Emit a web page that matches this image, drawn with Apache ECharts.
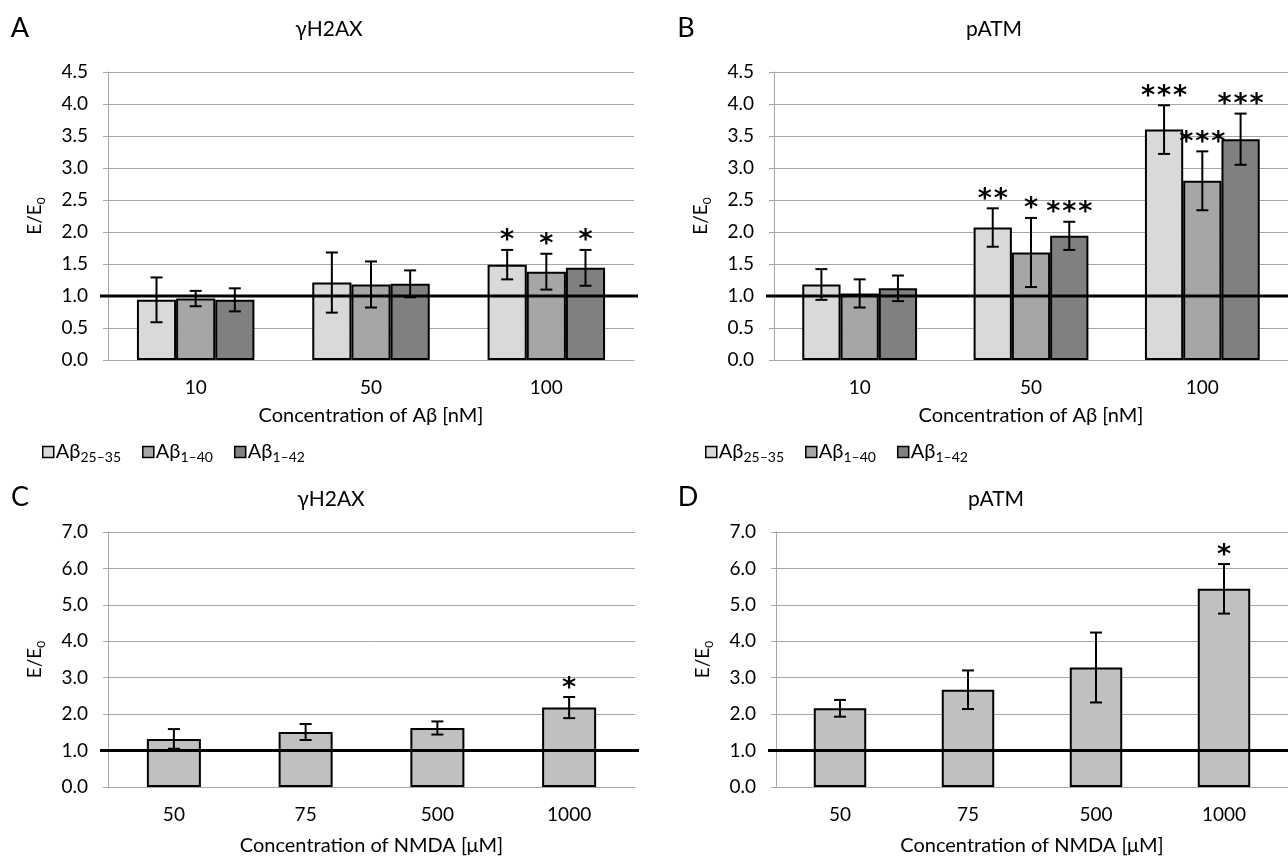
<!DOCTYPE html>
<html>
<head>
<meta charset="utf-8">
<script src="https://cdn.jsdelivr.net/npm/echarts@6/dist/echarts.min.js"></script>
<style>
  html, body { margin: 0; padding: 0; background: #fff; overflow: hidden; }
  #chart { width: 1288px; height: 857px; }
</style>
</head>
<body>
<div id="chart"></div>
<script>
// categories
const abDoses = ["10", "50", "100"];
const nmdaDoses = ["50", "75", "500", "1000"];
const peptides = ["Aβ25–35", "Aβ1–40", "Aβ1–42"];

// panel A - γH2AX vs Aβ (mean, sd, significance per peptide)
const aMean = [[0.94, 1.21, 1.49], [0.96, 1.18, 1.38], [0.94, 1.19, 1.44]];
const aSd = [[0.35, 0.47, 0.23], [0.12, 0.36, 0.28], [0.18, 0.21, 0.28]];
const aStars = [["", "", "*"], ["", "", "*"], ["", "", "*"]];

// panel B - pATM vs Aβ
const bMean = [[1.18, 2.07, 3.60], [1.04, 1.68, 2.80], [1.12, 1.94, 3.45]];
const bSd = [[0.24, 0.30, 0.38], [0.22, 0.54, 0.46], [0.20, 0.22, 0.40]];
const bStars = [["", "**", "***"], ["", "*", "***"], ["", "***", "***"]];

// panel C - γH2AX vs NMDA
const cMean = [1.32, 1.51, 1.62, 2.18];
const cSd = [0.27, 0.22, 0.18, 0.29];
const cStars = ["", "", "", "*"];

// panel D - pATM vs NMDA
const dMean = [2.16, 2.67, 3.28, 5.44];
const dSd = [0.23, 0.53, 0.96, 0.68];
const dStars = ["", "", "", "*"];

const refLevel = 1.0;
const abColors = ["#d9d9d9", "#a6a6a6", "#808080"];
const nmdaColor = "#c0c0c0";
const FONT = "Lato, 'Open Sans', sans-serif";
const STAR_FONT = "bold 27px 'DejaVu Sans', sans-serif";
const GRID_GRAY = "#a6a6a6";

const myChart = echarts.init(document.getElementById("chart"));

function xAxisOf(grid, cats, name, gap) {
  return {
    type: "category",
    gridIndex: grid,
    data: cats,
    name: name,
    nameLocation: "middle",
    nameGap: gap,
    nameTextStyle: { color: "#000", fontSize: 20, fontFamily: FONT },
    axisLine: { lineStyle: { color: GRID_GRAY, width: 1 } },
    axisTick: { length: 7, lineStyle: { color: GRID_GRAY } },
    axisLabel: { color: "#000", fontSize: 19, fontFamily: FONT, margin: 18 },
  };
}

function yAxisOf(grid, max, interval) {
  return {
    type: "value",
    gridIndex: grid,
    min: 0,
    max: max,
    interval: interval,
    name: "{a|E/E}{s|0}",
    nameLocation: "middle",
    nameRotate: 90,
    nameGap: 61,
    nameTextStyle: {
      rich: {
        a: { fontSize: 19, fontFamily: FONT, color: "#000", verticalAlign: "middle", lineHeight: 24 },
        s: { fontSize: 12, fontFamily: FONT, color: "#000", verticalAlign: "bottom", lineHeight: 24 },
      },
    },
    axisLine: { show: true, lineStyle: { color: GRID_GRAY, width: 1 } },
    axisTick: { show: true, length: 5, lineStyle: { color: GRID_GRAY } },
    axisLabel: {
      color: "#000",
      fontSize: 19,
      fontFamily: FONT,
      margin: 20,
      formatter: (v) => v.toFixed(1),
    },
    splitLine: { lineStyle: { color: GRID_GRAY, width: 1 } },
  };
}

// error bars + significance stars for one bar series
function errSeries(axis, means, sds, stars, idx, count, gapRatio) {
  return {
    type: "custom",
    xAxisIndex: axis,
    yAxisIndex: axis,
    z: 5,
    silent: true,
    clip: false,
    encode: { x: 0, y: 1 },
    data: means.map((m, i) => [i, m, sds[i]]),
    renderItem: (params, api) => {
      const cat = api.value(0);
      const m = api.value(1);
      const sd = api.value(2);
      const band = api.size([1, 0])[0];
      const barW = (band * (1 - gapRatio)) / count;
      const x = api.coord([cat, 0])[0] + (idx - (count - 1) / 2) * barW;
      const yHi = api.coord([cat, m + sd])[1];
      const yLo = api.coord([cat, m - sd])[1];
      const st = { stroke: "#000", lineWidth: 2 };
      const children = [
        { type: "line", shape: { x1: x, y1: yHi, x2: x, y2: yLo }, style: st },
        { type: "line", shape: { x1: x - 6, y1: yHi, x2: x + 6, y2: yHi }, style: st },
        { type: "line", shape: { x1: x - 6, y1: yLo, x2: x + 6, y2: yLo }, style: st },
      ];
      // stars drawn one by one so they keep the wide spacing of the original
      const s = stars[params.dataIndex] || "";
      for (let k = 0; k < s.length; k++) {
        children.push({
          type: "text",
          style: {
            text: s[k],
            x: x + (k - (s.length - 1) / 2) * 16,
            y: yHi + 5,
            align: "center",
            verticalAlign: "bottom",
            font: STAR_FONT,
            fill: "#000",
          },
        });
      }
      return { type: "group", children: children };
    },
  };
}

// the black reference line at E/E0 = 1
function refSeries(axis) {
  return {
    type: "custom",
    xAxisIndex: axis,
    yAxisIndex: axis,
    z: 4,
    silent: true,
    clip: false,
    encode: { x: 0, y: 1 },
    data: [[0, refLevel]],
    renderItem: (params, api) => {
      const cs = params.coordSys;
      const y = api.coord([0, api.value(1)])[1];
      return {
        type: "line",
        shape: { x1: cs.x - 8, y1: y, x2: cs.x + cs.width + 4, y2: y },
        style: { stroke: "#000", lineWidth: 3 },
      };
    },
  };
}

const series = [];
[[0, aMean, aSd, aStars], [1, bMean, bSd, bStars]].forEach(([axis, means, sds, stars]) => {
  peptides.forEach((name, i) => {
    series.push({
      name: name,
      type: "bar",
      xAxisIndex: axis,
      yAxisIndex: axis,
      barGap: "0%",
      barCategoryGap: "33%",
      itemStyle: { color: abColors[i], borderColor: "#000", borderWidth: 2 },
      data: means[i],
    });
  });
  series.push(refSeries(axis));
  peptides.forEach((name, i) => {
    series.push(errSeries(axis, means[i], sds[i], stars[i], i, 3, 0.33));
  });
});
[[2, cMean, cSd, cStars], [3, dMean, dSd, dStars]].forEach(([axis, means, sds, stars]) => {
  series.push({
    name: "NMDA" + axis,
    type: "bar",
    xAxisIndex: axis,
    yAxisIndex: axis,
    barCategoryGap: "59%",
    itemStyle: { color: nmdaColor, borderColor: "#000", borderWidth: 2 },
    data: means,
  });
  series.push(refSeries(axis));
  series.push(errSeries(axis, means, sds, stars, 0, 1, 0.59));
});

const legendBase = {
  data: peptides,
  top: 442,
  padding: 0,
  orient: "horizontal",
  icon: "rect",
  itemWidth: 11,
  itemHeight: 11,
  itemGap: 21,
  selectedMode: false,
  itemStyle: { borderColor: "#000", borderWidth: 1.5 },
  formatter: (name) => "{m|Aβ}{s|" + name.slice(2) + "}",
  textStyle: {
    padding: [0, 0, 0, -3],
    rich: {
      m: { fontSize: 20, fontFamily: FONT, color: "#000", verticalAlign: "middle", lineHeight: 24 },
      s: { fontSize: 14, fontFamily: FONT, color: "#000", verticalAlign: "bottom", lineHeight: 24 },
    },
  },
};

function label(text, x, y, size) {
  return {
    type: "text",
    x: x,
    y: y,
    style: { text: text, font: size + "px " + FONT, fill: "#000", align: "center", verticalAlign: "middle" },
  };
}

const option = {
  animation: false,
  backgroundColor: "#fff",
  grid: [
    { left: 108, top: 72, width: 526, height: 288 },
    { left: 774, top: 72, width: 527, height: 288 },
    { left: 108, top: 532, width: 527, height: 255 },
    { left: 776, top: 532, width: 530, height: 255 },
  ],
  xAxis: [
    xAxisOf(0, abDoses, "Concentration of Aβ [nM]", 46),
    xAxisOf(1, abDoses, "Concentration of Aβ [nM]", 46),
    xAxisOf(2, nmdaDoses, "Concentration of NMDA [μM]", 49),
    xAxisOf(3, nmdaDoses, "Concentration of NMDA [μM]", 49),
  ],
  yAxis: [yAxisOf(0, 4.5, 0.5), yAxisOf(1, 4.5, 0.5), yAxisOf(2, 7, 1), yAxisOf(3, 7, 1)],
  legend: [
    Object.assign({}, legendBase, { left: 42 }),
    Object.assign({}, legendBase, { left: 705 }),
  ],
  graphic: [
    label("A", 20, 28, 27),
    label("B", 686, 28, 27),
    label("C", 20, 497, 27),
    label("D", 688, 497, 27),
    label("γH2AX", 329, 29, 21),
    label("pATM", 994, 29, 21),
    label("γH2AX", 331, 499, 21),
    label("pATM", 996, 499, 21),
  ],
  series: series,
};

myChart.setOption(option);
</script>
</body>
</html>
